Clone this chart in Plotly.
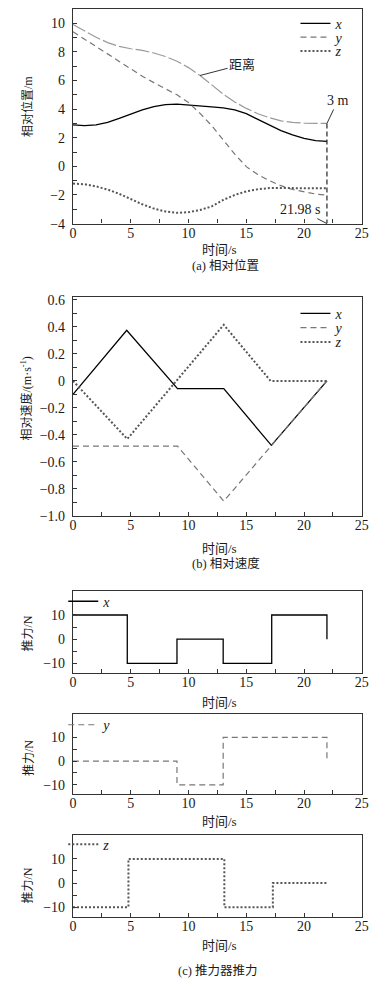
import plotly.graph_objects as go

W, H = 387, 989

# ---------------- (a) relative position ----------------
t_pos = [0, 1, 2, 3, 4, 5, 6, 7, 8, 9, 10, 11, 12, 13, 14, 15, 16, 17, 18, 19, 20, 21, 21.98]
pos_x = [2.90, 2.85, 2.90, 3.08, 3.35, 3.66, 3.95, 4.18, 4.32, 4.35, 4.30, 4.22, 4.16, 4.08, 3.95, 3.68, 3.30, 2.90, 2.50, 2.20, 1.96, 1.80, 1.75]
pos_y = [9.40, 8.90, 8.38, 7.86, 7.33, 6.80, 6.30, 5.85, 5.45, 5.00, 4.46, 3.70, 2.85, 1.85, 0.85, -0.02, -0.57, -1.00, -1.35, -1.62, -1.80, -1.93, -2.02]
pos_z = [-1.20, -1.25, -1.40, -1.62, -1.92, -2.30, -2.65, -2.95, -3.15, -3.25, -3.20, -3.05, -2.80, -2.35, -2.00, -1.75, -1.60, -1.52, -1.50, -1.52, -1.53, -1.53, -1.53]
dist = [9.92, 9.45, 9.02, 8.65, 8.38, 8.22, 8.10, 7.92, 7.68, 7.35, 6.90, 6.35, 5.72, 5.05, 4.50, 4.05, 3.68, 3.40, 3.18, 3.07, 3.02, 3.00, 3.00]
t_end = 21.98
pos_range = [-4, 11]

# ---------------- (b) relative velocity ----------------
vt_x = [0, 4.65, 9.05, 13.05, 17.17, 21.98]
vel_x = [-0.10, 0.375, -0.057, -0.057, -0.477, 0.0]
vt_y = [0, 9.05, 13.05, 21.98]
vel_y = [-0.483, -0.483, -0.89, 0.0]
vt_z = [0, 4.7, 13.05, 17.1, 21.98]
vel_z = [0.0, -0.43, 0.415, 0.0, 0.0]
vel_range = [-1.0, 0.62]
vel_ticks = [-1.0, -0.8, -0.6, -0.4, -0.2, 0, 0.2, 0.4, 0.6]
vel_ticktext = ["\u22121.0", "\u22120.8", "\u22120.6", "\u22120.4", "\u22120.2", "0", "0.2", "0.4", "0.6"]

# ---------------- (c) thruster force ----------------
ft_x = [0, 4.7, 9.0, 13.0, 17.2, 21.98]
force_x = [10, -10, 0, -10, 10, 0]
ft_y = [0, 9.0, 13.0, 21.98]
force_y = [0, -10, 10, 0]
ft_z = [0, 4.8, 13.1, 17.3, 21.98]
force_z = [-10, 10, -10, 0, 0]
force_range = [-14, 20]
force_ticks = [-10, 0, 10]

t_range = [0, 25]

LAT = '"Liberation Serif", "Noto Sans CJK SC", serif'
TXT = "#1a1a1a"
AX = "#333333"


def py(p):
    return 1 - p / H


def px(p):
    return p / W


XDOM = [px(71), px(368.3)]
YDOMS = [
    [py(222.3), py(5)],
    [py(518.3), py(296.7)],
    [py(677.3), py(594)],
    [py(800), py(718.3)],
    [py(924), py(841)],
]

fig = go.Figure()

sx = dict(color="black", width=1.3)
sy = dict(color="#777777", width=1.2, dash="6px,4px")
sz = dict(color="#555555", width=2.0, dash="2px,2px")
sd = dict(color="#9a9a9a", width=1.2, dash="14px,3px")

# (a)
fig.add_trace(go.Scatter(x=t_pos, y=pos_x, mode="lines", line=sx, name="<i>x</i>", legend="legend", xaxis="x", yaxis="y"))
fig.add_trace(go.Scatter(x=t_pos, y=pos_y, mode="lines", line=sy, name="<i>y</i>", legend="legend6", xaxis="x", yaxis="y"))
fig.add_trace(go.Scatter(x=t_pos, y=pos_z, mode="lines", line=sz, name="<i>z</i>", legend="legend7", xaxis="x", yaxis="y"))
fig.add_trace(go.Scatter(x=t_pos, y=dist, mode="lines", line=sd, name="距离", showlegend=False, xaxis="x", yaxis="y"))
fig.add_trace(go.Scatter(x=[t_end, t_end], y=[dist[-1], pos_range[0]], mode="lines",
                         line=dict(color="#222222", width=1.2, dash="5px,3px"), showlegend=False, xaxis="x", yaxis="y"))

# (b)
fig.add_trace(go.Scatter(x=vt_x, y=vel_x, mode="lines", line=sx, name="<i>x</i>", legend="legend2", xaxis="x2", yaxis="y2"))
fig.add_trace(go.Scatter(x=vt_y, y=vel_y, mode="lines", line=sy, name="<i>y</i>", legend="legend8", xaxis="x2", yaxis="y2"))
fig.add_trace(go.Scatter(x=vt_z, y=vel_z, mode="lines", line=sz, name="<i>z</i>", legend="legend9", xaxis="x2", yaxis="y2"))

# (c)
fig.add_trace(go.Scatter(x=ft_x, y=force_x, mode="lines", line=dict(sx, shape="hv"), name="<i>x</i>", legend="legend3", xaxis="x3", yaxis="y3"))
fig.add_trace(go.Scatter(x=ft_y, y=force_y, mode="lines", line=dict(sy, shape="hv"), name="<i>y</i>", legend="legend4", xaxis="x4", yaxis="y4"))
fig.add_trace(go.Scatter(x=ft_z, y=force_z, mode="lines", line=dict(sz, shape="hv"), name="<i>z</i>", legend="legend5", xaxis="x5", yaxis="y5"))

base = dict(showline=True, linecolor=AX, linewidth=1.3, mirror=True, ticks="inside", ticklen=4,
            tickwidth=1, tickcolor=AX, showgrid=False, zeroline=False,
            tickfont=dict(family=LAT, size=14, color=TXT))

lay = dict(width=W, height=H, margin=dict(l=0, r=0, t=0, b=0), paper_bgcolor="white",
           plot_bgcolor="white", font=dict(family=LAT, size=14, color=TXT))

for i in range(5):
    sfx = "" if i == 0 else str(i + 1)
    lay["xaxis" + sfx] = dict(base, domain=XDOM, anchor="y" + sfx, range=t_range, tick0=0, dtick=5,
                              minor=dict(ticks="inside", ticklen=4, dtick=2.5, tickcolor=AX, showgrid=False),
                              ticklabelstandoff=-4)

lay["yaxis"] = dict(base, domain=YDOMS[0], anchor="x", range=pos_range, tick0=0, dtick=2,
                    minor=dict(ticks="inside", ticklen=4, dtick=1, tickcolor=AX, showgrid=False), ticklabelstandoff=4)
lay["yaxis2"] = dict(base, domain=YDOMS[1], anchor="x2", range=vel_range, tickmode="array", tickvals=vel_ticks,
                     ticktext=vel_ticktext,
                     minor=dict(ticks="inside", ticklen=4, tickmode="linear", tick0=-1, dtick=0.1, tickcolor=AX, showgrid=False),
                     ticklabelstandoff=4)
for i in range(2, 5):
    sfx = str(i + 1)
    lay["yaxis" + sfx] = dict(base, domain=YDOMS[i], anchor="x" + sfx, range=force_range, tickmode="array",
                              tickvals=force_ticks,
                              minor=dict(ticks="inside", ticklen=4, tickmode="array", tickvals=[-5, 5], tickcolor=AX, showgrid=False),
                              ticklabelstandoff=4)

leg = dict(bgcolor="rgba(0,0,0,0)", borderwidth=0, font=dict(family=LAT, size=14, color=TXT),
           xanchor="left", yanchor="middle")
# one legend per entry so rows can sit as close as in the reference
lay["legend"] = dict(leg, x=px(300), y=py(20))
lay["legend6"] = dict(leg, x=px(300), y=py(34))
lay["legend7"] = dict(leg, x=px(300), y=py(48))
lay["legend2"] = dict(leg, x=px(300), y=py(313.5))
lay["legend8"] = dict(leg, x=px(300), y=py(328))
lay["legend9"] = dict(leg, x=px(300), y=py(342.5))
lay["legend3"] = dict(leg, x=px(61), y=py(605))
lay["legend4"] = dict(leg, x=px(61), y=py(730))
lay["legend5"] = dict(leg, x=px(61), y=py(851))

fig.update_layout(**lay)

anns = []


def paper_text(text, x, y, size=13, angle=0, family=LAT):
    anns.append(dict(text=text, x=px(x), y=py(y), xref="paper", yref="paper", showarrow=False,
                     xanchor="center", yanchor="middle", textangle=angle,
                     font=dict(family=family, size=size, color=TXT)))


# axis titles
for yy in [249, 551, 706.7, 827.7, 953]:
    paper_text("时间/s", 222, yy, 13)
paper_text("相对位置/m", 24, 104, 12, -90)
paper_text("相对速度/(m·s<sup>-1</sup>)", 23, 399, 12, -90)
for yy in [637, 763, 892]:
    paper_text("推力/N", 25, yy, 12, -90)
# captions
paper_text("(a) 相对位置", 228, 265, 12.5)
paper_text("(b) 相对速度", 228, 566, 12.5)
paper_text("(c) 推力器推力", 220, 979, 12.5)

# callouts
arrow = dict(showarrow=True, arrowhead=0, arrowwidth=1, arrowcolor="#333333", standoff=0, xref="x", yref="y")
anns.append(dict(arrow, text="距离", x=t_pos[11], y=dist[11], ax=42, ay=-11, font=dict(family=LAT, size=13, color=TXT)))
anns.append(dict(arrow, text="3 m", x=t_end, y=dist[-1], ax=11, ay=-23, font=dict(family=LAT, size=14, color=TXT)))
anns.append(dict(arrow, text="21.98 s", x=t_end, y=pos_range[0], ax=-27, ay=-14, font=dict(family=LAT, size=14, color=TXT)))

fig.update_layout(annotations=anns)
fig.write_html("out.html", config={"displayModeBar": False},
               post_script="document.body.style.margin='0';document.body.style.overflow='hidden';")
